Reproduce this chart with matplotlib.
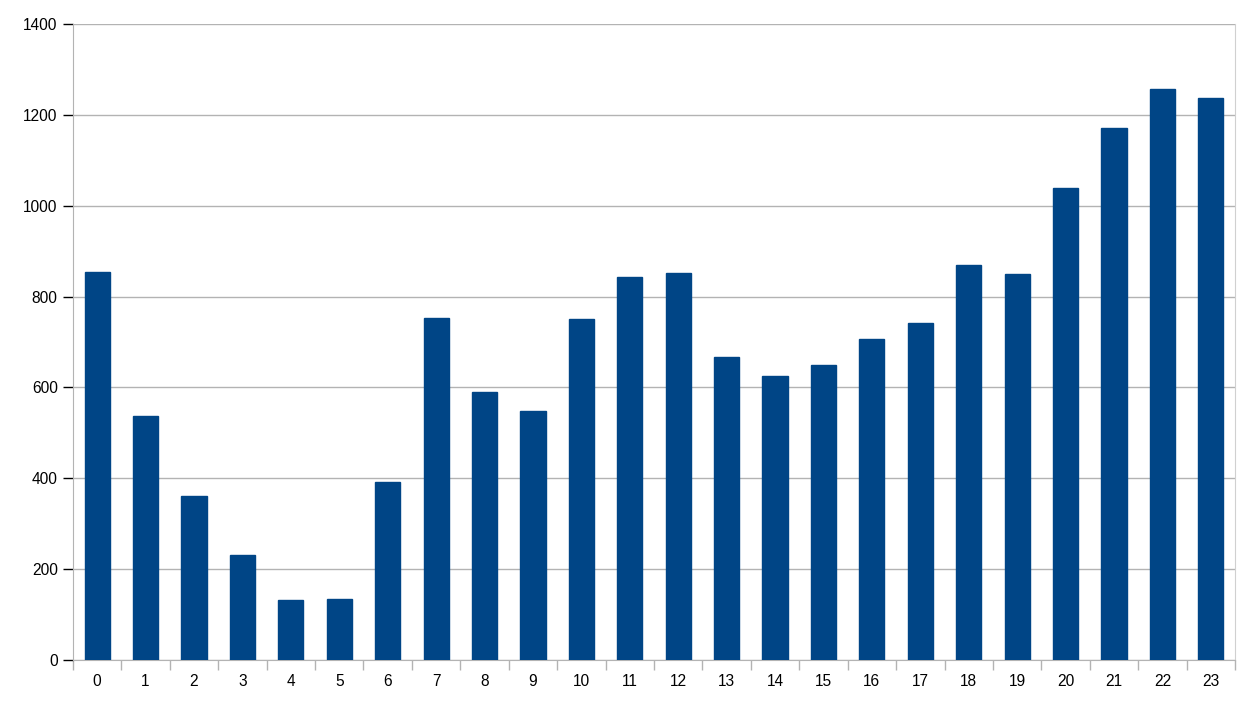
import matplotlib
matplotlib.use('Agg')
import matplotlib.pyplot as plt
import numpy as np

# Datos por hora
horas = [str(h) for h in range(24)]
valores = [854, 537, 361, 231, 132, 134, 392, 753, 590, 548, 751, 843,
           852, 667, 625, 649, 707, 742, 869, 850, 1039, 1171, 1257, 1237]
yticks = [0, 200, 400, 600, 800, 1000, 1200, 1400]

plt.rcParams['font.family'] = ['Liberation Sans', 'DejaVu Sans']

fig = plt.figure(figsize=(12.56, 7.08), dpi=100)
ax = fig.add_axes([0.0581, 0.0678, 0.9252, 0.8983])

x = np.arange(len(horas))
ax.bar(x, valores, width=0.52, color='#004586', edgecolor='#004586', zorder=3)

ax.set_xlim(-0.5, len(horas) - 0.5)
ax.set_ylim(0, 1400)
ax.set_yticks(yticks)
ax.yaxis.grid(True, color='#b3b3b3', linewidth=1, zorder=0)

# etiquetas de x centradas, ticks en los bordes
ax.set_xticks(x)
ax.set_xticklabels(horas)
ax.tick_params(axis='x', length=0, pad=10)
ax.set_xticks(np.arange(-0.5, len(horas)), minor=True)
ax.tick_params(axis='x', which='minor', length=7, color='#b3b3b3', width=1)
ax.tick_params(axis='y', length=7, color='#b3b3b3', width=1, pad=4)
ax.tick_params(labelsize=11.2, colors='black')

for lado in ['left', 'bottom']:
    ax.spines[lado].set_color('#b3b3b3')
ax.spines['right'].set_color('#d0d0d0')
ax.spines['top'].set_visible(False)

fig.savefig('out.png', dpi=100)
